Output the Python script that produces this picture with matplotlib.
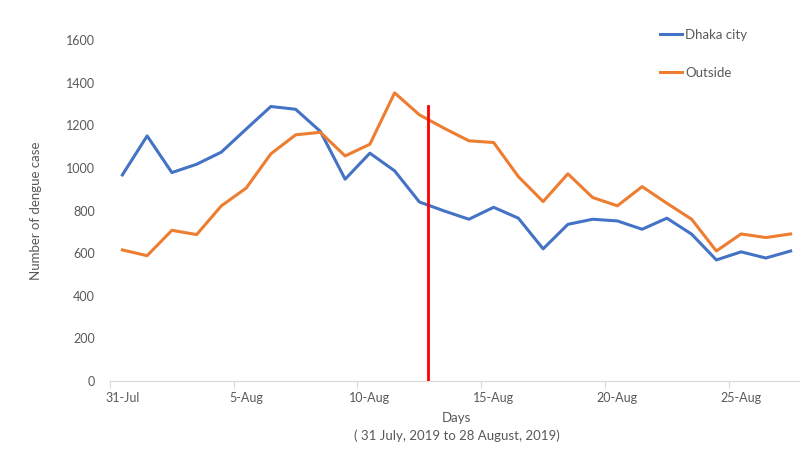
import numpy as np
import matplotlib.pyplot as plt

# daily dengue cases, 31 Jul .. 27 Aug 2019
days = ["31-Jul", "1-Aug", "2-Aug", "3-Aug", "4-Aug", "5-Aug", "6-Aug", "7-Aug",
        "8-Aug", "9-Aug", "10-Aug", "11-Aug", "12-Aug", "13-Aug", "14-Aug", "15-Aug",
        "16-Aug", "17-Aug", "18-Aug", "19-Aug", "20-Aug", "21-Aug", "22-Aug", "23-Aug",
        "24-Aug", "25-Aug", "26-Aug", "27-Aug"]
dhaka = [967, 1150, 978, 1017, 1074, 1182, 1288, 1275, 1171, 947, 1069, 986, 840, 798,
         759, 815, 764, 620, 735, 759, 751, 712, 764, 689, 568, 606, 577, 610]
outside = [615, 588, 707, 687, 822, 905, 1066, 1155, 1167, 1056, 1111, 1352, 1249, 1186,
           1127, 1119, 959, 842, 972, 861, 822, 912, 834, 759, 610, 690, 673, 690]

# red marker line (between 12 and 13 Aug)
cutoff_x = 12.35
cutoff_top = 1290

plt.rcParams['font.family'] = ['Lato', 'DejaVu Sans']
grey = "#595959"

fig = plt.figure(figsize=(8, 4.53), dpi=100)
ax = fig.add_axes([110 / 800, 72 / 453, 693 / 800, 341 / 453])

x = np.arange(len(days))
ax.plot(x, dhaka, color="#4472C4", lw=2.2, label="Dhaka city")
ax.plot(x, outside, color="#ED7D31", lw=2.2, label="Outside")
ax.plot([cutoff_x, cutoff_x], [0, cutoff_top], color="#FF0000", lw=2)

ax.set_xlim(-0.5, len(days) - 0.5)
ax.set_ylim(0, 1600)
ax.set_yticks(np.arange(0, 1601, 200))

# ticks on day boundaries, labels on day centres
ax.set_xticks(np.arange(-0.5, len(days), 5))
ax.set_xticklabels([])
ax.set_xticks(x[::5], minor=True)
ax.set_xticklabels([days[i] for i in x[::5]], minor=True)
ax.tick_params(axis="x", which="major", length=5, color="#d9d9d9", direction="out")
ax.tick_params(axis="x", which="minor", length=0, pad=8, labelsize=9, labelcolor=grey)
ax.tick_params(axis="y", length=0, pad=11, labelsize=9, labelcolor=grey)

for s in ["top", "right", "left"]:
    ax.spines[s].set_visible(False)
ax.spines["bottom"].set_color("#d9d9d9")

ax.set_ylabel("Number of dengue case", fontsize=9.5, color=grey, labelpad=17)
ax.set_xlabel("Days\n( 31 July, 2019 to 28 August, 2019)", fontsize=9.5, color=grey,
              labelpad=6, linespacing=1.5)

leg = fig.legend(loc="upper left", bbox_to_anchor=(648 / 800, 436 / 453), frameon=False,
                 fontsize=9.5, labelspacing=1.95, handlelength=1.7, handletextpad=0.2,
                 labelcolor=grey)

plt.savefig("out.png", dpi=100)
